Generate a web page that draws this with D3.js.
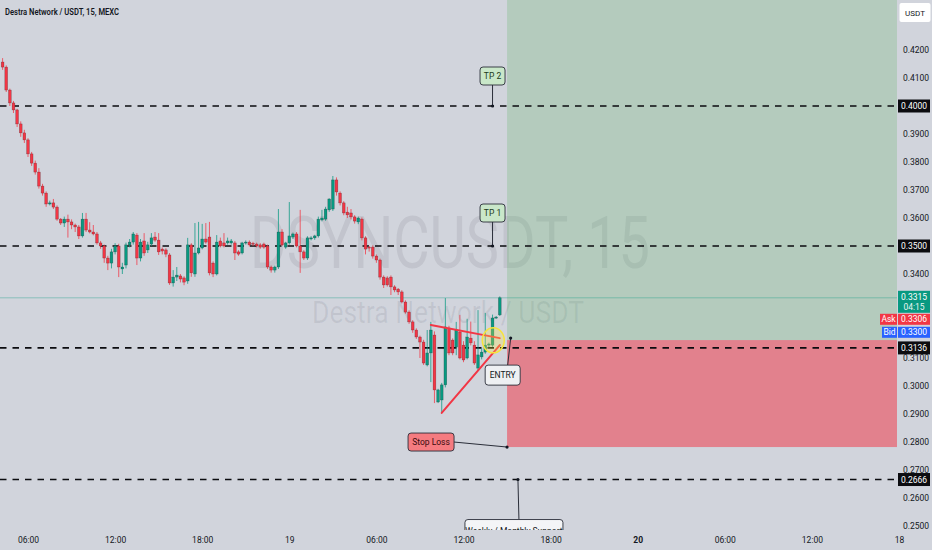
<!DOCTYPE html>
<html>
<head>
<meta charset="utf-8">
<script src="https://cdn.jsdelivr.net/npm/d3@7"></script>
<style>
  body { margin: 0; background: #d1d4dc; }
  svg { display: block; font-family: Roboto, "Liberation Sans", sans-serif; }
</style>
</head>
<body>
<svg id="chart" width="932" height="550"></svg>
<script>
// DSYNC/USDT 15m candles, first bar 18th 04:15
var startTime = Date.UTC(2025, 0, 18, 4, 15);
var barMinutes = 15;

var open = [0.4157,0.4139,0.4057,0.4011,0.3986,0.3936,0.3904,0.3879,0.3829,0.3796,
  0.3764,0.3714,0.3689,0.3650,0.3654,0.3639,0.3596,0.3582,0.3596,0.3586,
  0.3575,0.3568,0.3536,0.3596,0.3557,0.3550,0.3543,0.3511,0.3500,0.3457,
  0.3439,0.3479,0.3500,0.3418,0.3432,0.3504,0.3514,0.3539,0.3457,0.3518,
  0.3486,0.3507,0.3532,0.3521,0.3489,0.3486,0.3468,0.3368,0.3389,0.3393,
  0.3386,0.3375,0.3504,0.3400,0.3475,0.3493,0.3525,0.3532,0.3439,0.3400,
  0.3518,0.3511,0.3511,0.3511,0.3511,0.3479,0.3475,0.3511,0.3514,0.3510,
  0.3507,0.3504,0.3507,0.3500,0.3425,0.3414,0.3425,0.3550,0.3496,0.3511,
  0.3532,0.3543,0.3500,0.3479,0.3457,0.3525,0.3529,0.3536,0.3593,0.3596,
  0.3629,0.3632,0.3736,0.3689,0.3654,0.3621,0.3618,0.3604,0.3586,0.3596,
  0.3529,0.3496,0.3496,0.3464,0.3450,0.3389,0.3386,0.3389,0.3354,0.3346,
  0.3336,0.3300,0.3264,0.3229,0.3200,0.3175,0.3157,0.3075,0.3118,0.3182,
  0.2943,0.2950,0.3004,0.3207,0.3164,0.3139,0.3193,0.3146,0.3100,0.3171,
  0.3146,0.3064,0.3104,0.3121,0.3146,0.3146,0.3243,0.3254];
var high = [0.4171,0.4145,0.4062,0.4018,0.3990,0.3945,0.3915,0.3885,0.3836,0.3805,
  0.3778,0.3722,0.3695,0.3662,0.3668,0.3645,0.3600,0.3605,0.3612,0.3595,
  0.3580,0.3575,0.3618,0.3618,0.3585,0.3575,0.3550,0.3518,0.3505,0.3465,
  0.3490,0.3510,0.3508,0.3440,0.3512,0.3525,0.3550,0.3546,0.3525,0.3546,
  0.3515,0.3546,0.3550,0.3546,0.3495,0.3492,0.3475,0.3414,0.3425,0.3400,
  0.3392,0.3529,0.3510,0.3582,0.3586,0.3579,0.3582,0.3586,0.3445,0.3539,
  0.3530,0.3546,0.3530,0.3525,0.3518,0.3485,0.3515,0.3520,0.3520,0.3515,
  0.3512,0.3510,0.3512,0.3505,0.3430,0.3430,0.3632,0.3560,0.3515,0.3657,
  0.3548,0.3550,0.3629,0.3485,0.3535,0.3535,0.3540,0.3605,0.3629,0.3640,
  0.3670,0.3750,0.3745,0.3695,0.3660,0.3640,0.3632,0.3610,0.3605,0.3602,
  0.3535,0.3500,0.3502,0.3470,0.3455,0.3395,0.3392,0.3395,0.3360,0.3350,
  0.3342,0.3306,0.3270,0.3235,0.3206,0.3180,0.3165,0.3200,0.3229,0.3195,
  0.2990,0.3011,0.3314,0.3215,0.3170,0.3229,0.3254,0.3160,0.3240,0.3230,
  0.3160,0.3271,0.3135,0.3261,0.3155,0.3255,0.3250,0.3320];
var low = [0.4129,0.4050,0.4000,0.3975,0.3925,0.3890,0.3868,0.3818,0.3786,0.3755,
  0.3705,0.3680,0.3640,0.3645,0.3632,0.3590,0.3575,0.3568,0.3530,0.3560,
  0.3550,0.3525,0.3530,0.3550,0.3545,0.3538,0.3505,0.3490,0.3440,0.3414,
  0.3420,0.3470,0.3389,0.3400,0.3420,0.3495,0.3505,0.3432,0.3445,0.3465,
  0.3475,0.3500,0.3515,0.3468,0.3470,0.3460,0.3361,0.3355,0.3375,0.3370,
  0.3360,0.3365,0.3390,0.3390,0.3470,0.3488,0.3508,0.3395,0.3389,0.3395,
  0.3495,0.3495,0.3505,0.3505,0.3450,0.3465,0.3470,0.3505,0.3498,0.3500,
  0.3495,0.3490,0.3490,0.3418,0.3405,0.3405,0.3418,0.3500,0.3490,0.3505,
  0.3525,0.3495,0.3404,0.3450,0.3450,0.3520,0.3522,0.3530,0.3588,0.3590,
  0.3622,0.3625,0.3680,0.3645,0.3610,0.3600,0.3595,0.3580,0.3578,0.3520,
  0.3470,0.3480,0.3455,0.3440,0.3380,0.3350,0.3355,0.3325,0.3335,0.3325,
  0.3295,0.3258,0.3222,0.3190,0.3168,0.3100,0.3075,0.3070,0.3014,0.2939,
  0.2939,0.2904,0.2995,0.3110,0.3110,0.3110,0.3095,0.3085,0.3095,0.3145,
  0.3075,0.3055,0.3095,0.3115,0.3138,0.3140,0.3240,0.3250];
var close = [0.4139,0.4057,0.4011,0.3986,0.3936,0.3904,0.3879,0.3829,0.3796,0.3764,
  0.3714,0.3689,0.3650,0.3654,0.3639,0.3596,0.3582,0.3596,0.3586,0.3575,
  0.3568,0.3536,0.3596,0.3557,0.3550,0.3543,0.3511,0.3500,0.3457,0.3439,
  0.3479,0.3500,0.3425,0.3425,0.3504,0.3514,0.3543,0.3457,0.3514,0.3475,
  0.3504,0.3529,0.3521,0.3479,0.3482,0.3471,0.3368,0.3389,0.3396,0.3382,
  0.3371,0.3504,0.3404,0.3475,0.3493,0.3525,0.3514,0.3404,0.3400,0.3514,
  0.3500,0.3500,0.3518,0.3518,0.3475,0.3471,0.3511,0.3514,0.3504,0.3507,
  0.3500,0.3496,0.3496,0.3425,0.3414,0.3425,0.3550,0.3504,0.3511,0.3536,
  0.3543,0.3500,0.3479,0.3457,0.3529,0.3529,0.3536,0.3596,0.3600,0.3632,
  0.3668,0.3736,0.3693,0.3654,0.3618,0.3611,0.3604,0.3589,0.3600,0.3529,
  0.3489,0.3493,0.3464,0.3450,0.3389,0.3361,0.3361,0.3354,0.3343,0.3336,
  0.3300,0.3264,0.3229,0.3200,0.3175,0.3157,0.3082,0.3118,0.3200,0.2986,
  0.2986,0.3004,0.3211,0.3118,0.3118,0.3200,0.3100,0.3093,0.3175,0.3154,
  0.3082,0.3111,0.3121,0.3146,0.3150,0.3243,0.3246,0.3315];

// horizontal levels drawn on chart
var levels = [0.4000, 0.3500, 0.3136, 0.2666];
var lastPrice = 0.3315, askPrice = 0.3306, bidPrice = 0.3300;
var countdown = "04:15";

// long position tool
var posStart = Date.UTC(2025, 0, 19, 15, 0);
var posEntry = 0.3164, posStop = 0.2782, posTarget = 0.44;

// axis ticks (0.40 / 0.35 / 0.33 / 0.32 sit under the price tags)
var priceTicks = [0.25,0.26,0.27,0.28,0.29,0.30,0.31,0.34,0.36,0.37,0.38,0.39,0.41,0.42];
var timeTicks = [Date.UTC(2025,0,18,6), Date.UTC(2025,0,18,12), Date.UTC(2025,0,18,18),
  Date.UTC(2025,0,19,0), Date.UTC(2025,0,19,6), Date.UTC(2025,0,19,12), Date.UTC(2025,0,19,18),
  Date.UTC(2025,0,20,0), Date.UTC(2025,0,20,6), Date.UTC(2025,0,20,12), Date.UTC(2025,0,20,18)];
var timeLabels = ["06:00","12:00","18:00","19","06:00","12:00","18:00","20","06:00","12:00","18"];
var boldLabels = ["20"];

// drawings: triangle lines, circle, callouts
var triangleLines = [
  [[Date.UTC(2025,0,19,9,45), 0.3218], [Date.UTC(2025,0,19,14,30), 0.3171]],
  [[Date.UTC(2025,0,19,10,30), 0.2904], [Date.UTC(2025,0,19,14,30), 0.3146]]
];
var circleAt = [Date.UTC(2025,0,19,14,3), 0.3163];
var callouts = [
  {text: "TP 2", t: Date.UTC(2025,0,19,14,0), p: 0.4000, fill: "#c9e7c9", color: "#1e3a20"},
  {text: "TP 1", t: Date.UTC(2025,0,19,14,0), p: 0.3500, fill: "#c9e7c9", color: "#1e3a20"},
  {text: "ENTRY", t: Date.UTC(2025,0,19,15,15), p: 0.3171, fill: "#eef0f3", color: "#131722"},
  {text: "Stop Loss", t: Date.UTC(2025,0,19,15,0), p: 0.2782, fill: "#f57b80", color: "#3b0b0e"},
  {text: "Weekly / Monthly Support", t: Date.UTC(2025,0,19,15,45), p: 0.2666, fill: "#f4f5f7", color: "#131722"}
];
// box offsets from anchor: dx (box centre), dy (box top), w, h
var calloutBox = {
  "TP 2": [0, -39, 25, 18],
  "TP 1": [0, -42, 25, 18],
  "ENTRY": [-8, 27, 35, 20],
  "Stop Loss": [-76, -14, 46, 18],
  "Weekly / Monthly Support": [-4, 40, 98, 22]
};

var W = 932, H = 550, plotR = 897, plotB = 530;
var up = "#089981", down = "#f23645";

var svg = d3.select("#chart");
var x = d3.scaleUtc()
  .domain([Date.UTC(2025,0,18,6), Date.UTC(2025,0,20,18)])
  .range([28, 899]);
var y = d3.scaleLinear().domain([0.25, 0.42]).range([526, 50]);

var candles = open.map(function(o, i) {
  return {t: new Date(startTime + i * barMinutes * 60000), o: o, h: high[i], l: low[i], c: close[i]};
});

svg.append("rect").attr("width", W).attr("height", H).attr("fill", "#d1d4dc");

svg.append("defs").append("clipPath").attr("id", "plotClip")
  .append("rect").attr("width", plotR).attr("height", plotB);

var plot = svg.append("g").attr("clip-path", "url(#plotClip)");

// watermark
plot.append("text").attr("x", 450).attr("y", 268).attr("text-anchor", "middle")
  .attr("font-size", 72).attr("textLength", 400).attr("lengthAdjust", "spacingAndGlyphs")
  .attr("fill", "rgba(40,44,60,0.09)").text("DSYNCUSDT, 15");
plot.append("text").attr("x", 448).attr("y", 323).attr("text-anchor", "middle")
  .attr("font-size", 31).attr("textLength", 272).attr("lengthAdjust", "spacingAndGlyphs")
  .attr("fill", "rgba(40,44,60,0.09)").text("Destra Network / USDT");

// position zones
var zx = x(posStart);
plot.append("rect").attr("x", zx).attr("width", plotR - zx)
  .attr("y", y(posTarget)).attr("height", y(posEntry) - y(posTarget))
  .attr("fill", "rgba(76,175,80,0.22)");
plot.append("rect").attr("x", zx).attr("width", plotR - zx)
  .attr("y", y(posEntry)).attr("height", y(posStop) - y(posEntry))
  .attr("fill", "rgba(242,54,69,0.52)");

// last price line
plot.append("line").attr("x1", 0).attr("x2", plotR)
  .attr("y1", y(lastPrice)).attr("y2", y(lastPrice))
  .attr("stroke", up).attr("stroke-opacity", 0.45).attr("stroke-width", 0.8);

// dashed levels
plot.selectAll("line.level").data(levels).join("line").attr("class", "level")
  .attr("x1", 0).attr("x2", plotR)
  .attr("y1", function(d) { return y(d); }).attr("y2", function(d) { return y(d); })
  .attr("stroke", "#0b0b0f").attr("stroke-width", 1.7).attr("stroke-dasharray", "6.5,6");

// candles
plot.selectAll("line.wick").data(candles).join("line").attr("class", "wick")
  .attr("x1", function(d) { return x(d.t); }).attr("x2", function(d) { return x(d.t); })
  .attr("y1", function(d) { return y(d.h); }).attr("y2", function(d) { return y(d.l); })
  .attr("stroke", function(d) { return d.c >= d.o ? up : down; })
  .attr("stroke-opacity", 0.85).attr("stroke-width", 0.9);
plot.selectAll("rect.body").data(candles).join("rect").attr("class", "body")
  .attr("x", function(d) { return x(d.t) - 1.4; }).attr("width", 2.8)
  .attr("y", function(d) { return y(Math.max(d.o, d.c)); })
  .attr("height", function(d) { return Math.max(1, Math.abs(y(d.o) - y(d.c))); })
  .attr("fill", function(d) { return d.c >= d.o ? up : down; })
  .attr("stroke", "rgba(30,20,25,0.45)").attr("stroke-width", 0.45);

// triangle
plot.selectAll("line.tri").data(triangleLines).join("line").attr("class", "tri")
  .attr("x1", function(d) { return x(d[0][0]); }).attr("y1", function(d) { return y(d[0][1]); })
  .attr("x2", function(d) { return x(d[1][0]); }).attr("y2", function(d) { return y(d[1][1]); })
  .attr("stroke", "#f23645").attr("stroke-width", 2).attr("stroke-linecap", "round");

plot.append("ellipse").attr("cx", x(circleAt[0])).attr("cy", y(circleAt[1]))
  .attr("rx", 11).attr("ry", 12.5)
  .attr("fill", "rgba(255,235,59,0.28)").attr("stroke", "#f7e43c").attr("stroke-width", 1.5);

// callouts
callouts.forEach(function(c) {
  var ax = x(c.t), ay = y(c.p), b = calloutBox[c.text];
  var bx = ax + b[0] - b[2] / 2, by = ay + b[1];
  var g = plot.append("g");
  var ex, ey;
  if (c.text === "Stop Loss") { ex = bx + b[2]; ey = by + b[3] / 2; }
  else if (b[1] < 0) { ex = ax; ey = by + b[3]; }
  else { ex = bx + b[2] / 2 + 5; ey = by; }
  g.append("line").attr("x1", ax).attr("y1", ay).attr("x2", ex).attr("y2", ey)
    .attr("stroke", "#2a2e39").attr("stroke-width", 1);
  g.append("circle").attr("cx", ax).attr("cy", ay).attr("r", 1.6).attr("fill", "#131722");
  g.append("rect").attr("x", bx).attr("y", by).attr("width", b[2]).attr("height", b[3])
    .attr("rx", 3).attr("fill", c.fill).attr("stroke", "#2a2e39").attr("stroke-width", 0.9);
  g.append("text").attr("x", bx + b[2] / 2).attr("y", by + b[3] / 2 + 3)
    .attr("text-anchor", "middle").attr("font-size", 8.5).attr("fill", c.color).text(c.text);
});

// price axis
var yAxis = svg.append("g").attr("transform", "translate(" + plotR + ",0)")
  .call(d3.axisRight(y).tickValues(priceTicks).tickFormat(d3.format(".4f")).tickSize(0).tickPadding(6));
yAxis.select(".domain").remove();
yAxis.selectAll("text").attr("font-size", 8.5).attr("fill", "#131722").attr("font-family", "Roboto, sans-serif");

// level tags
levels.forEach(function(p) {
  svg.append("rect").attr("x", plotR + 1).attr("y", y(p) - 6.5).attr("width", 32).attr("height", 13)
    .attr("fill", "#0c0c10");
  svg.append("text").attr("x", plotR + 17).attr("y", y(p) + 3).attr("text-anchor", "middle")
    .attr("font-size", 8.5).attr("fill", "#ffffff").text(d3.format(".4f")(p));
});

// last price, ask, bid tags (stacked)
var ly = y(lastPrice);
svg.append("rect").attr("x", plotR + 1).attr("y", ly - 7).attr("width", 32).attr("height", 22).attr("fill", up);
svg.append("text").attr("x", plotR + 17).attr("y", ly + 2.5).attr("text-anchor", "middle")
  .attr("font-size", 8.5).attr("fill", "#fff").text(d3.format(".4f")(lastPrice));
svg.append("text").attr("x", plotR + 17).attr("y", ly + 12).attr("text-anchor", "middle")
  .attr("font-size", 8.5).attr("fill", "#e8f5f2").text(countdown);

var quotes = [{name: "Ask", p: askPrice, fill: "#f23645", w: 17}, {name: "Bid", p: bidPrice, fill: "#2962ff", w: 15}];
quotes.forEach(function(q, i) {
  var qy = ly + 16 + i * 13;
  svg.append("rect").attr("x", plotR + 1).attr("y", qy).attr("width", 32).attr("height", 11).attr("fill", q.fill);
  svg.append("text").attr("x", plotR + 17).attr("y", qy + 8.5).attr("text-anchor", "middle")
    .attr("font-size", 8.5).attr("fill", "#fff").text(d3.format(".4f")(q.p));
  svg.append("rect").attr("x", plotR - q.w).attr("y", qy).attr("width", q.w).attr("height", 11).attr("fill", q.fill);
  svg.append("text").attr("x", plotR - q.w / 2).attr("y", qy + 8.5).attr("text-anchor", "middle")
    .attr("font-size", 8.5).attr("fill", "#fff").text(q.name);
});

// currency box
svg.append("rect").attr("x", 899.5).attr("y", 3).attr("width", 31).attr("height", 19).attr("rx", 2)
  .attr("fill", "#ffffff");
svg.append("text").attr("x", 915).attr("y", 15.5).attr("text-anchor", "middle")
  .attr("font-size", 8).attr("fill", "#131722").text("USDT");

// time axis
var xAxis = svg.append("g").attr("transform", "translate(0," + plotB + ")")
  .call(d3.axisBottom(x).tickValues(timeTicks.map(function(t) { return new Date(t); }))
    .tickFormat(function(d, i) { return timeLabels[i]; }).tickSize(0).tickPadding(7));
xAxis.select(".domain").remove();
xAxis.selectAll("text").attr("font-size", 8.5).attr("fill", "#131722").attr("font-family", "Roboto, sans-serif")
  .attr("font-weight", function(d, i) { return boldLabels.indexOf(timeLabels[i]) >= 0 ? 700 : 400; });

// title
svg.append("text").attr("x", 5).attr("y", 15).attr("font-size", 8.5).attr("font-weight", 600)
  .attr("textLength", 114).attr("lengthAdjust", "spacingAndGlyphs")
  .attr("fill", "#131722").text("Destra Network / USDT, 15, MEXC");
</script>
</body>
</html>
